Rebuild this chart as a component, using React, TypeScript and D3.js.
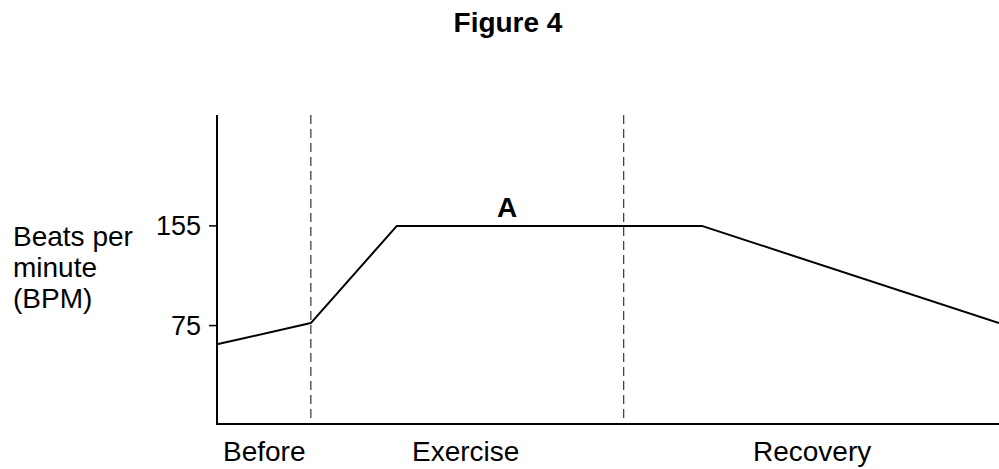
import React from "react";
import * as d3 from "d3";

const timePoints = [0, 12, 23, 62, 100];
const bpmValues = [60, 77, 155, 155, 77];
const phaseBoundaries = [12, 52];
const yTicks = [75, 155];
const phaseLabels = ["Before", "Exercise", "Recovery"];
const phaseLabelX = [223, 412, 753];

export default function App() {
  const W = 999, H = 469;
  const x = d3.scaleLinear().domain([0, 100]).range([217, 999]);
  const y = d3.scaleLinear().domain([-4, 244]).range([424, 115]);
  const data = timePoints.map((t, i) => [t, bpmValues[i]] as [number, number]);
  const line = d3.line<[number, number]>().x(d => x(d[0])).y(d => y(d[1]));
  const font = "Liberation Sans, Arial, sans-serif";
  return (
    <svg width={W} height={H} style={{ position: "absolute", left: 0, top: 0, background: "#fff" }} fontFamily={font}>
      <text x={508} y={32} textAnchor="middle" fontSize={28} fontWeight="bold">Figure 4</text>
      {phaseBoundaries.map((b, i) => (
        <line key={i} x1={x(b)} x2={x(b)} y1={115} y2={424} stroke="#444" strokeWidth={1.3} strokeDasharray="9,5" />
      ))}
      <path d={line(data) || ""} fill="none" stroke="#000" strokeWidth={2} strokeLinejoin="round" />
      <line x1={217} x2={217} y1={115} y2={425} stroke="#000" strokeWidth={2} />
      <line x1={216} x2={999} y1={424} y2={424} stroke="#000" strokeWidth={2} />
      {yTicks.map(t => (
        <g key={t}>
          <line x1={209} x2={217} y1={y(t)} y2={y(t)} stroke="#000" strokeWidth={1.5} />
          <text x={201} y={y(t) + 9} textAnchor="end" fontSize={27}>{t}</text>
        </g>
      ))}
      <text x={13} fontSize={28}>
        <tspan x={13} y={246}>Beats per</tspan>
        <tspan x={13} y={277}>minute</tspan>
        <tspan x={13} y={308}>(BPM)</tspan>
      </text>
      <text x={507} y={217} textAnchor="middle" fontSize={28} fontWeight="bold">A</text>
      {phaseLabels.map((l, i) => (
        <text key={l} x={phaseLabelX[i]} y={461} fontSize={28}>{l}</text>
      ))}
    </svg>
  );
}
